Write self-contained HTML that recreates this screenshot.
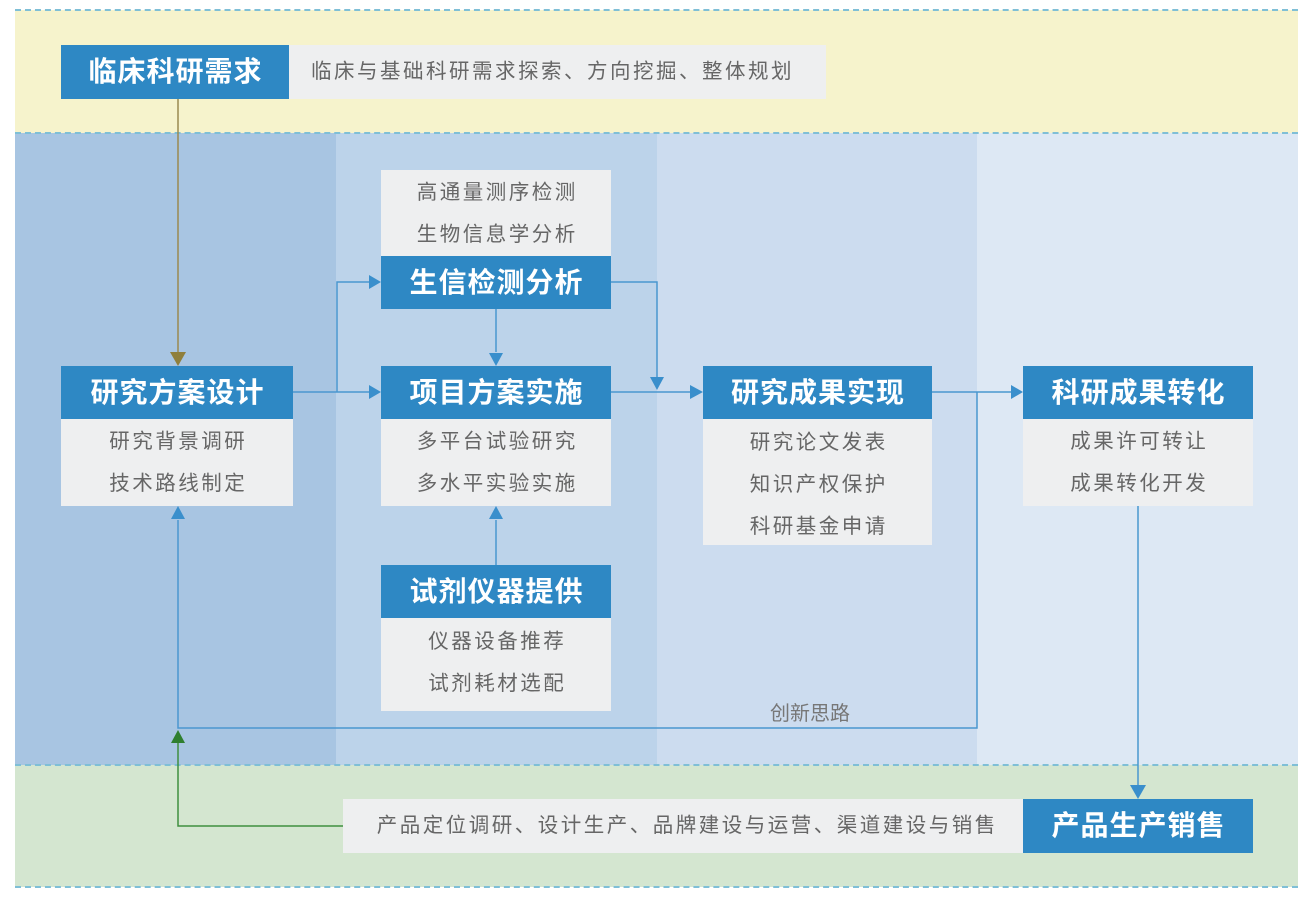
<!DOCTYPE html>
<html><head><meta charset="utf-8"><style>
body{margin:0;width:1308px;height:902px;background:#fff;position:relative;overflow:hidden;font-family:"Liberation Sans","Noto Sans CJK SC",sans-serif}
div{position:absolute;box-sizing:border-box}
.h{background:#2e88c4;color:#fff;font-size:28px;font-weight:bold;text-align:center;line-height:53px;letter-spacing:1px;text-indent:1px}
.g{background:#eeeff0;color:#666;font-size:20.5px;text-align:center;letter-spacing:2.5px;text-indent:2.5px}
.g p{margin:0;line-height:42px}
</style></head><body>
<div style="left:15px;top:10px;width:1283px;height:123px;background:#f6f3cc"></div>
<div style="left:15px;top:133px;width:321px;height:632px;background:#a8c5e2"></div>
<div style="left:336px;top:133px;width:321px;height:632px;background:#bcd3ea"></div>
<div style="left:657px;top:133px;width:320px;height:632px;background:#ccdcef"></div>
<div style="left:977px;top:133px;width:321px;height:632px;background:#dde8f4"></div>
<div style="left:15px;top:765px;width:1283px;height:122px;background:#d4e6d0"></div>
<div style="left:15px;top:9px;width:1283px;border-top:2px dashed #7fbfd6"></div>
<div style="left:15px;top:132px;width:1283px;border-top:2px dashed #7fbfd6"></div>
<div style="left:15px;top:764px;width:1283px;border-top:2px dashed #7fbfd6"></div>
<div style="left:15px;top:886px;width:1283px;border-top:2px dashed #7fbfd6"></div>

<div class="h" style="left:61px;top:45px;width:228px;height:54px;line-height:54px">临床科研需求</div>
<div class="g" style="left:289px;top:45px;width:537px;height:54px;line-height:54px;text-align:left;padding-left:22px;text-indent:0">临床与基础科研需求探索、方向挖掘、整体规划</div>

<div class="h" style="left:61px;top:366px;width:232px;height:53px">研究方案设计</div>
<div class="g" style="left:61px;top:419px;width:232px;height:87px;padding-top:2px"><p>研究背景调研</p><p>技术路线制定</p></div>

<div class="g" style="left:381px;top:170px;width:230px;height:86px;padding-top:2px"><p>高通量测序检测</p><p>生物信息学分析</p></div>
<div class="h" style="left:381px;top:256px;width:230px;height:53px">生信检测分析</div>

<div class="h" style="left:381px;top:366px;width:230px;height:53px">项目方案实施</div>
<div class="g" style="left:381px;top:419px;width:230px;height:87px;padding-top:2px"><p>多平台试验研究</p><p>多水平实验实施</p></div>

<div class="h" style="left:381px;top:565px;width:230px;height:53px">试剂仪器提供</div>
<div class="g" style="left:381px;top:618px;width:230px;height:93px;padding-top:3px"><p>仪器设备推荐</p><p>试剂耗材选配</p></div>

<div class="h" style="left:703px;top:366px;width:229px;height:53px">研究成果实现</div>
<div class="g" style="left:703px;top:419px;width:229px;height:126px;padding-top:3px"><p>研究论文发表</p><p>知识产权保护</p><p>科研基金申请</p></div>

<div class="h" style="left:1023px;top:366px;width:230px;height:53px">科研成果转化</div>
<div class="g" style="left:1023px;top:419px;width:230px;height:87px;padding-top:2px"><p>成果许可转让</p><p>成果转化开发</p></div>

<div class="g" style="left:343px;top:799px;width:680px;height:54px;line-height:54px;padding-left:6px">产品定位调研、设计生产、品牌建设与运营、渠道建设与销售</div>
<div class="h" style="left:1023px;top:799px;width:230px;height:54px;line-height:54px">产品生产销售</div>

<div style="left:770px;top:697px;color:#777;font-size:20px;letter-spacing:0px">创新思路</div>

<svg width="1308" height="902" style="position:absolute;left:0;top:0" fill="none">
<g stroke="#4a97cf" stroke-width="1.5">
<path d="M293 392H370M337 392V282H370M496 309V352M611 282H657V378M611 392H690M932 392H1012M977 392V728H178V520M1138 506V786M496 565V520"/>
</g>
<g fill="#3a8fcc">
<path d="M381 392l-12-7v14z"/><path d="M381 282l-12-7v14z"/><path d="M496 366l-7-13h14z"/>
<path d="M657 390l-7-13h14z"/><path d="M703 392l-13-7v14z"/><path d="M1023 392l-12-7v14z"/>
<path d="M178 506l-7 13h14z"/><path d="M1138 799l-8-14h16z"/><path d="M496 506l-7 13h14z"/>
</g>
<path d="M178 99V352" stroke="#9a8a50" stroke-width="1.5"/>
<path d="M178 366l-8-14h16z" fill="#8f7f3c"/>
<path d="M343 826H178V742" stroke="#3f8f3f" stroke-width="1.5"/>
<path d="M178 730l-7 13h14z" fill="#2f7f2f"/>
</svg>
</body></html>
